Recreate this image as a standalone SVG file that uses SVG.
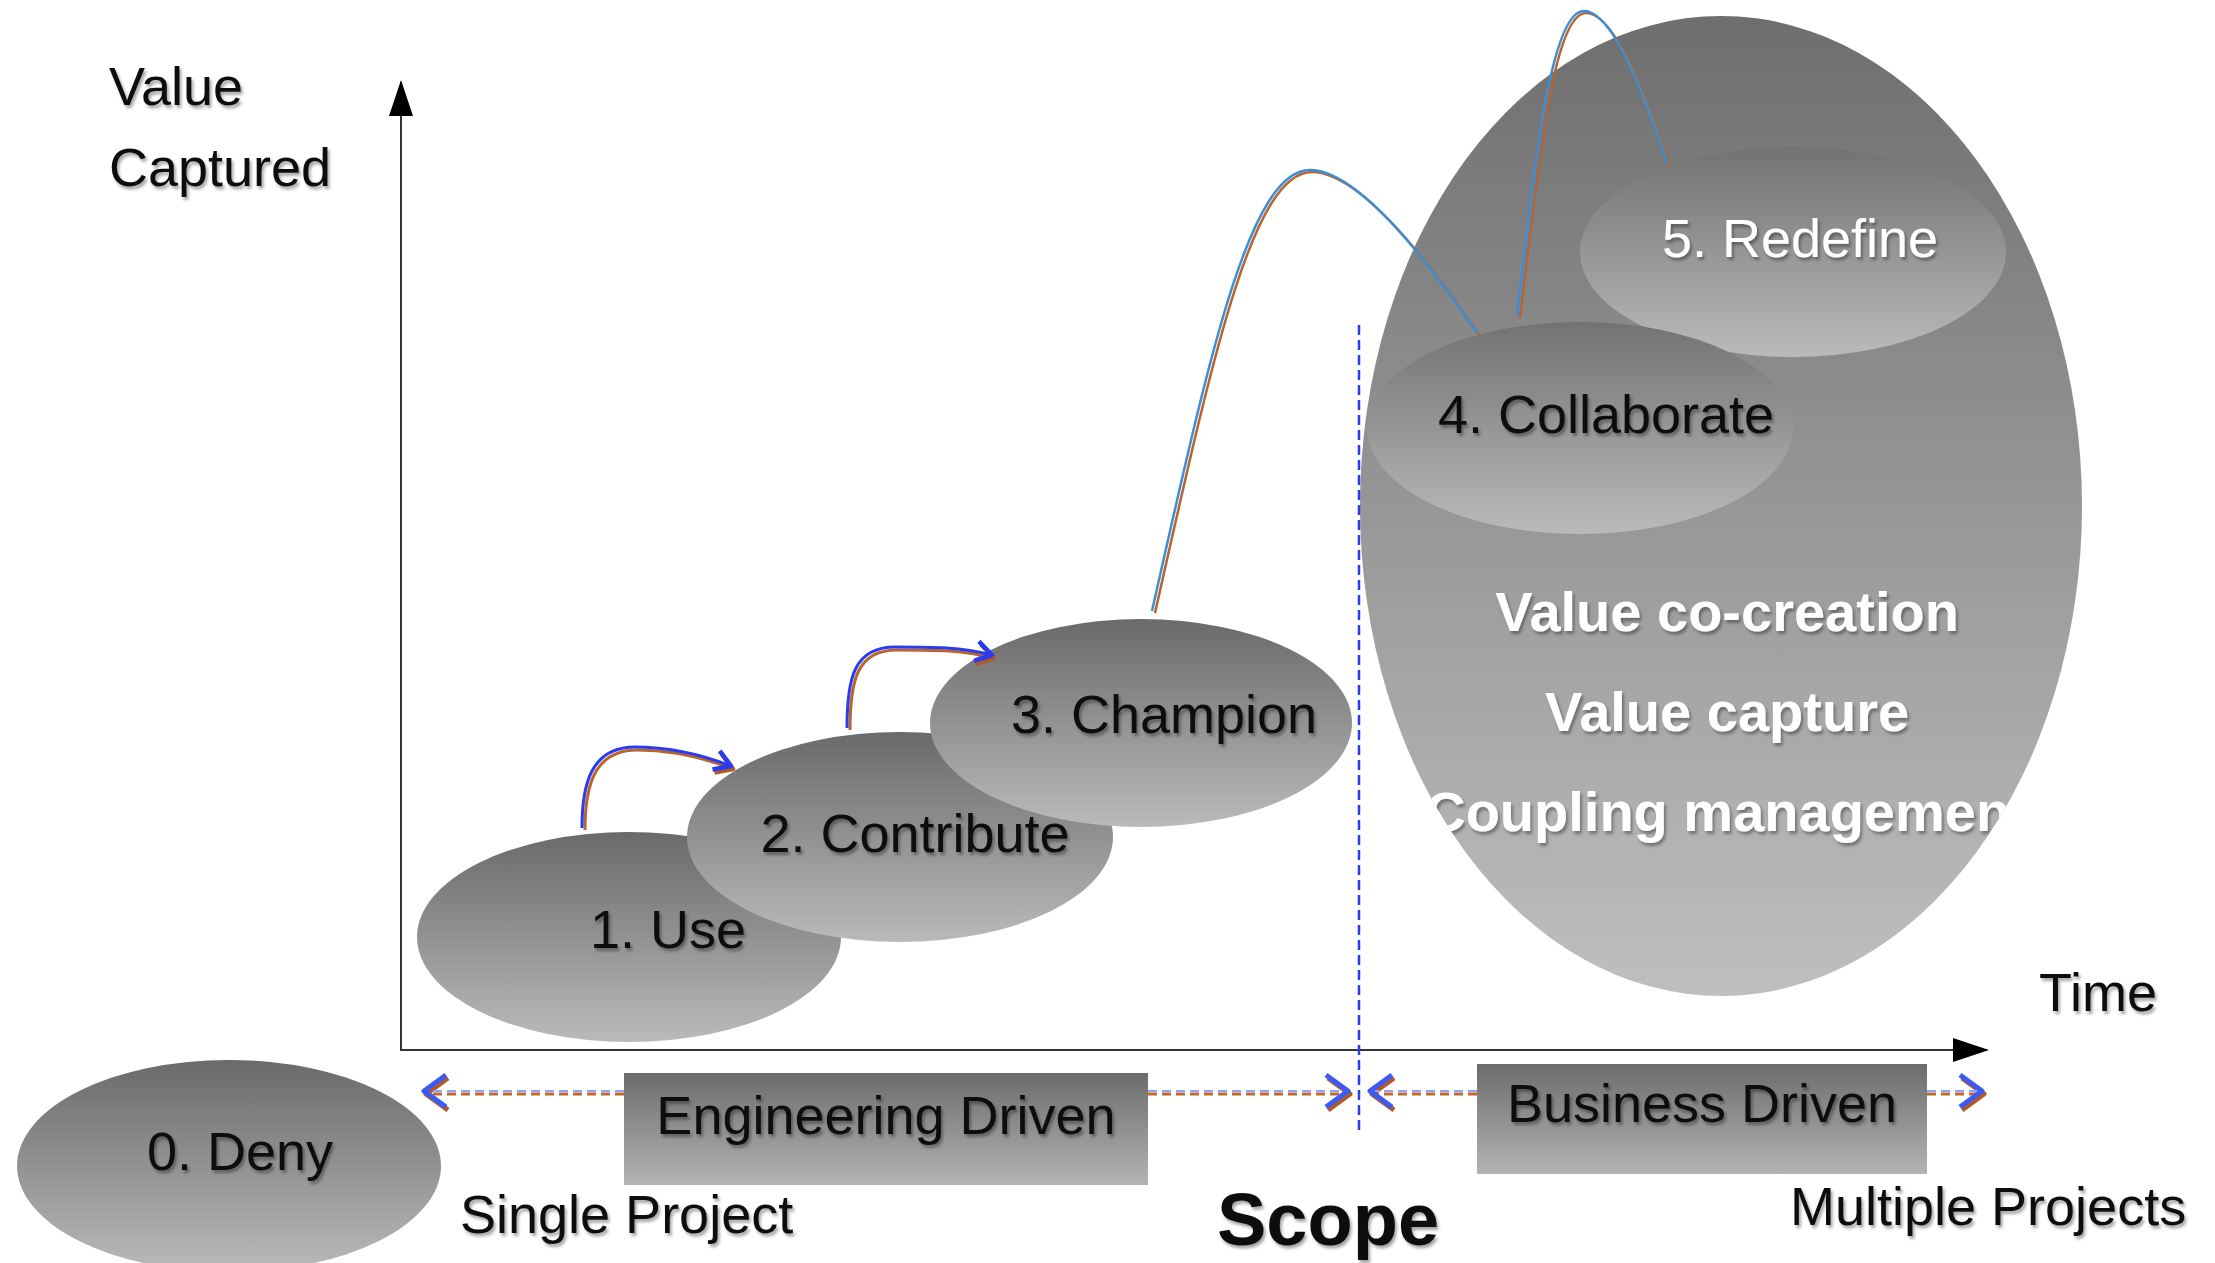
<svg xmlns="http://www.w3.org/2000/svg" width="2215" height="1263" viewBox="0 0 2215 1263">
<style>
  .lbl { font-family: "Liberation Sans", Arial, sans-serif; font-size: 54px; fill: #111; }
  .scope { font-family: "Liberation Sans", Arial, sans-serif; font-size: 74px; font-weight: bold; fill: #111; }
  .node { font-family: "Liberation Sans", Arial, sans-serif; font-size: 54px; fill: #111; text-anchor: middle; }
  .nodeW { font-family: "Liberation Sans", Arial, sans-serif; font-size: 54px; fill: #fff; text-anchor: middle; }
  .wht { font-family: "Liberation Sans", Arial, sans-serif; font-size: 56px; font-weight: bold; fill: #fff; text-anchor: middle; }
  .axis { stroke: #333; stroke-width: 2; fill: none; }
  .arcO { fill: none; stroke: #b8642c; stroke-width: 2.5; }
  .arcB { fill: none; stroke: #3b8ed8; stroke-width: 2.5; }
  .smO { fill: none; stroke: #b8642c; stroke-width: 3; }
  .smB { fill: none; stroke: #2a3cf0; stroke-width: 3; }
  .dashO { fill: none; stroke: #c0692f; stroke-width: 3; stroke-dasharray: 9 5; }
  .dashB { fill: none; stroke: #8fa2ff; stroke-width: 2; stroke-dasharray: 9 5; }
</style>
<defs>
  <linearGradient id="gSmall" x1="0" y1="0" x2="0" y2="1">
    <stop offset="0" stop-color="#6a6a6a"/>
    <stop offset="1" stop-color="#bababa"/>
  </linearGradient>
  <linearGradient id="gBig" x1="0" y1="0" x2="0" y2="1">
    <stop offset="0" stop-color="#6e6e6e"/>
    <stop offset="1" stop-color="#bfbfbf"/>
  </linearGradient>
  <linearGradient id="gIn" x1="0" y1="0" x2="0" y2="1">
    <stop offset="0" stop-color="#727272"/>
    <stop offset="1" stop-color="#bababa"/>
  </linearGradient>
  <linearGradient id="gRect" x1="0" y1="0" x2="0" y2="1">
    <stop offset="0" stop-color="#6c6c6c"/>
    <stop offset="1" stop-color="#b4b4b4"/>
  </linearGradient>
  <filter id="sh" x="-10%" y="-30%" width="130%" height="170%">
    <feDropShadow dx="2" dy="3" stdDeviation="1.5" flood-color="#000" flood-opacity="0.35"/>
  </filter>
  <clipPath id="bigClip">
    <ellipse cx="1721" cy="506" rx="361" ry="490"/>
  </clipPath>
  <marker id="tri" viewBox="0 0 36 24" refX="34" refY="12" markerWidth="36" markerHeight="24" orient="auto" markerUnits="userSpaceOnUse">
    <path d="M0,0 L36,12 L0,24 Z" fill="#000"/>
  </marker>
  <marker id="chevB" viewBox="0 0 30 40" refX="26" refY="20" markerWidth="30" markerHeight="40" orient="auto" markerUnits="userSpaceOnUse">
    <path d="M4,4 L26,20 L4,36" fill="none" stroke="#3d5af5" stroke-width="5" stroke-linejoin="round"/>
  </marker>
  <marker id="chevO" viewBox="0 0 30 40" refX="26" refY="20" markerWidth="30" markerHeight="40" orient="auto" markerUnits="userSpaceOnUse">
    <path d="M4,4 L26,20 L4,36" fill="none" stroke="#b05a26" stroke-width="5" stroke-linejoin="round"/>
  </marker>
  <marker id="smChevB" viewBox="0 0 24 24" refX="20" refY="12" markerWidth="24" markerHeight="24" orient="auto" markerUnits="userSpaceOnUse">
    <path d="M4,2 L20,12 L4,22" fill="none" stroke="#2a3cf0" stroke-width="4.5" stroke-linejoin="round"/>
  </marker>
  <marker id="smChevO" viewBox="0 0 24 24" refX="20" refY="12" markerWidth="24" markerHeight="24" orient="auto" markerUnits="userSpaceOnUse">
    <path d="M4,2 L20,12 L4,22" fill="none" stroke="#b05a26" stroke-width="4.5" stroke-linejoin="round"/>
  </marker>
</defs>

<rect x="0" y="0" width="2215" height="1263" fill="#fff"/>

<g id="axes">
  <line class="axis" x1="401" y1="1050" x2="401" y2="82" marker-end="url(#tri)"/>
  <line class="axis" x1="400" y1="1050" x2="1987" y2="1050" marker-end="url(#tri)"/>
  <text class="lbl" x="109" y="105" filter="url(#sh)">Value</text>
  <text class="lbl" x="109" y="186" filter="url(#sh)">Captured</text>
  <text class="lbl" x="2039" y="1011" filter="url(#sh)">Time</text>
  <text class="lbl" x="460" y="1233" filter="url(#sh)">Single Project</text>
  <text class="scope" x="1217" y="1245" filter="url(#sh)">Scope</text>
  <text class="lbl" x="1790" y="1225" filter="url(#sh)">Multiple Projects</text>
</g>

<g id="node-0-deny">
  <ellipse cx="229" cy="1166" rx="212" ry="106" fill="url(#gSmall)"/>
  <text class="node" x="240" y="1170" filter="url(#sh)">0. Deny</text>
</g>
<g id="node-1-use">
  <ellipse cx="629" cy="937" rx="212" ry="105" fill="url(#gSmall)"/>
  <text class="node" x="668" y="948" filter="url(#sh)">1. Use</text>
</g>
<g id="node-2-contribute">
  <ellipse cx="900" cy="837" rx="213" ry="105" fill="url(#gSmall)"/>
  <text class="node" x="915" y="852" filter="url(#sh)">2. Contribute</text>
</g>
<g id="node-3-champion">
  <ellipse cx="1141" cy="723" rx="211" ry="104" fill="url(#gSmall)"/>
  <text class="node" x="1164" y="733" filter="url(#sh)">3. Champion</text>
</g>

<g id="node-big">
  <ellipse cx="1721" cy="506" rx="361" ry="490" fill="url(#gBig)"/>
  <g clip-path="url(#bigClip)">
    <text class="wht" x="1727" y="631" filter="url(#sh)">Value co-creation</text>
    <text class="wht" x="1727" y="731" filter="url(#sh)">Value capture</text>
    <text class="wht" x="1727" y="831" filter="url(#sh)">Coupling management</text>
  </g>
</g>
<g id="node-5-redefine">
  <ellipse cx="1793" cy="252" rx="213" ry="105" fill="url(#gIn)"/>
  <text class="nodeW" x="1800" y="257" filter="url(#sh)">5. Redefine</text>
</g>
<g id="node-4-collaborate">
  <ellipse cx="1580" cy="428" rx="213" ry="106" fill="url(#gIn)"/>
  <text class="node" x="1606" y="433" filter="url(#sh)">4. Collaborate</text>
</g>

<g id="node-engineering">
  <rect x="624" y="1073" width="524" height="112" fill="url(#gRect)"/>
  <text class="node" x="886" y="1134" filter="url(#sh)">Engineering Driven</text>
</g>
<g id="node-business">
  <rect x="1477" y="1064" width="450" height="110" fill="url(#gRect)"/>
  <text class="node" x="1702" y="1122" filter="url(#sh)">Business Driven</text>
</g>

<g id="connectors">
  <line x1="1359" y1="325" x2="1359" y2="1132" stroke="#2a3cf0" stroke-width="2.5" stroke-dasharray="10 5"/>

  <path class="smO" d="M585,830 C585,790 592,750 637,750 C672,750 702,757 733,769" marker-end="url(#smChevO)"/>
  <path class="smB" d="M582,828 C582,788 589,747 635,747 C670,747 700,754 731,766" marker-end="url(#smChevB)"/>
  <path class="smO" d="M850,730 C850,680 857,650 897,650 C937,650 962,650 994,658" marker-end="url(#smChevO)"/>
  <path class="smB" d="M847,728 C847,678 854,647 895,647 C935,647 960,647 992,655" marker-end="url(#smChevB)"/>

  <path class="arcO" d="M1155,613 C1212,360 1252,172 1312,172 C1347,172 1402,222 1479,335"/>
  <path class="arcB" d="M1152,611 C1209,358 1249,170 1310,170 C1345,170 1400,220 1477,333"/>
  <path class="arcO" d="M1520,318 C1537,180 1552,13 1586,13 C1612,13 1642,82 1669,165"/>
  <path class="arcB" d="M1517,316 C1534,178 1549,11 1584,11 C1610,11 1640,80 1667,163"/>

  <path class="dashO" d="M624,1094 L426,1094" marker-end="url(#chevO)"/>
  <path class="dashB" d="M624,1091 L424,1091" marker-end="url(#chevB)"/>
  <path class="dashO" d="M1148,1094 L1350,1094" marker-end="url(#chevO)"/>
  <path class="dashB" d="M1148,1091 L1348,1091" marker-end="url(#chevB)"/>
  <path class="dashO" d="M1477,1094 L1372,1094" marker-end="url(#chevO)"/>
  <path class="dashB" d="M1477,1091 L1370,1091" marker-end="url(#chevB)"/>
  <path class="dashO" d="M1927,1094 L1984,1094" marker-end="url(#chevO)"/>
  <path class="dashB" d="M1927,1091 L1982,1091" marker-end="url(#chevB)"/>
</g>
</svg>
